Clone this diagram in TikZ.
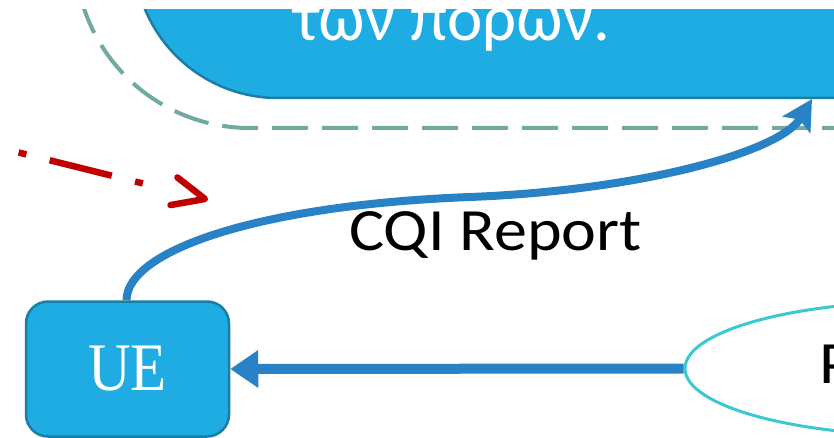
\documentclass[tikz,border=0pt]{standalone}
\usepackage{fontspec}
\usepackage{graphicx}
\newfontfamily\calibri{Carlito}
\newfontfamily\boxserif{Liberation Serif}
\usetikzlibrary{arrows.meta,shapes.geometric,calc}
\definecolor{boxblue}{HTML}{1EACE2}
\definecolor{boxedge}{HTML}{1A7FA6}
\definecolor{flowblue}{HTML}{2A82C6}
\definecolor{hintred}{HTML}{C00000}
\definecolor{groupgreen}{HTML}{72AAA2}
\definecolor{ellcyan}{HTML}{3CC8D0}
\begin{document}
\begin{tikzpicture}[x=1pt,y=-1pt,
  groupline/.style={draw=groupgreen, line width=4pt, dash pattern=on 36pt off 14pt},
  bigbox/.style={fill=boxblue, draw=boxedge, line width=2.5pt},
  uebox/.style={rectangle, rounded corners=22pt, fill=boxblue, draw=boxedge,
    line width=2.5pt, minimum width=203pt, minimum height=135pt, inner sep=0pt,
    text=white, font=\boxserif\fontsize{68}{72}\selectfont},
  schedell/.style={ellipse, draw=ellcyan, fill=white, line width=3pt,
    minimum width=480pt, minimum height=134pt, inner sep=0pt},
  flowline/.style={draw=flowblue, line width=8pt},
  hintline/.style={draw=hintred, line width=6.5pt},
  bigtext/.style={inner sep=0pt, anchor=base west, font=\calibri\fontsize{60}{66}\selectfont}
]
\useasboundingbox (0,0) rectangle (834,438);
\fill[white] (0,0) rectangle (834,438);
\clip (0,10) rectangle (834,438);

% dashed group outline around the resource box
\draw[groupline] (75,-100) -- (75,-47) .. controls (75,49.6) and (153.4,128) .. (250,128) -- (900,128);

% resource allocation box
\draw[bigbox] (134,-100) -- (134,-46) .. controls (134,33.5) and (198.5,98) .. (278,98)
  -- (900,98) -- (900,-100) -- cycle;
\node[bigtext, text=white, font=\calibri\fontsize{67}{72}\selectfont] (boxtext) at (293,41) {των πόρων.};
\coordinate (boxtip) at (812,99);

% UE and scheduler
\node[uebox] (ue) at (127.5,369) {\scalebox{0.87}[1]{UE}};
\node[schedell] (sched) at (925,368.5) {};
\node[bigtext] (schedlabel) at (819,383) {\scalebox{1.1}[1]{P}};

% downlink arrow
\draw[flowline, line width=10pt, -{Triangle[length=28pt,width=36pt]}] (sched.west) -- (ue.east);

% CQI report feedback
\draw[flowline, -{Stealth[length=30pt,width=32pt,inset=6pt]}]
  ([xshift=-1pt]ue.north) .. controls (127,250) and (260,205) .. (470,197)
  .. controls (640,190.5) and (780,152) .. (boxtip);
\node[bigtext] (cqi) at (349,251) {\scalebox{1.1}[1]{CQI Report}};

% red hint arrow
\coordinate (hintstart) at (-97.8,123.4);
\coordinate (hinttip) at (205,199);
\draw[hintline, dash pattern=on 8pt off 24pt on 64pt off 24pt]
  (hintstart) -- ($(hintstart)!248pt!(hinttip)$);
\draw[hintline, line cap=round, line join=round]
  ($(hinttip)!35pt!24:(hintstart)$) -- (hinttip) -- ($(hinttip)!35pt!-24:(hintstart)$);
\end{tikzpicture}
\end{document}
